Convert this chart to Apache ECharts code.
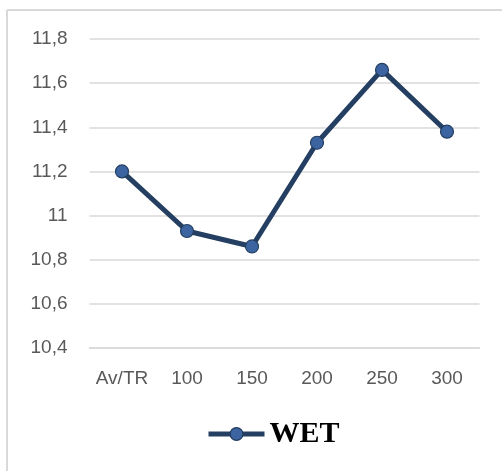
<!DOCTYPE html>
<html>
<head>
<meta charset="utf-8">
<script src="https://cdn.jsdelivr.net/npm/echarts@6/dist/echarts.min.js"></script>
<style>
  html, body { margin: 0; padding: 0; background: #ffffff; }
  #chart { width: 502px; height: 471px; }
</style>
</head>
<body>
<div id="chart"></div>
<script>
// Dose levels along the x axis
const categories = ['Av/TR', '100', '150', '200', '250', '300'];
// WET values per dose level
const wetValues = [11.2, 10.93, 10.86, 11.33, 11.66, 11.38];
const seriesName = 'WET';

const chart = echarts.init(document.getElementById('chart'), null, { renderer: 'canvas' });

const labelFont = '"Liberation Sans", "DejaVu Sans", sans-serif';
const lineColor = '#243f62';
const markerColor = '#3b64a0';

chart.setOption({
  animation: false,
  backgroundColor: '#ffffff',
  graphic: [
    // frame lines on the top and left edges
    { type: 'line', shape: { x1: 7, y1: 10, x2: 502, y2: 10 }, style: { stroke: '#d9d9d9', lineWidth: 2 } },
    { type: 'line', shape: { x1: 7, y1: 10, x2: 7, y2: 471 }, style: { stroke: '#d9d9d9', lineWidth: 2 } }
  ],
  grid: { left: 89.5, right: 22.5, top: 39, bottom: 123 },
  legend: {
    data: [seriesName],
    left: 206,
    top: 419,
    itemWidth: 56,
    itemHeight: 16,
    itemGap: 4,
    padding: 0,
    lineStyle: { width: 5, color: lineColor },
    itemStyle: { color: markerColor, borderColor: lineColor, borderWidth: 1.2 },
    textStyle: {
      fontFamily: '"Liberation Serif", "DejaVu Serif", serif',
      fontWeight: 'bold',
      fontSize: 30,
      color: '#000000'
    }
  },
  xAxis: {
    type: 'category',
    data: categories,
    boundaryGap: true,
    axisLine: { show: true, lineStyle: { color: '#d9d9d9', width: 1.5 } },
    axisTick: { show: false },
    axisLabel: { interval: 0, color: '#595959', fontSize: 19, fontFamily: labelFont, margin: 21 }
  },
  yAxis: {
    type: 'value',
    min: 10.4,
    max: 11.8,
    interval: 0.2,
    axisLine: { show: false },
    axisTick: { show: false },
    splitLine: { lineStyle: { color: '#d9d9d9', width: 1.5 } },
    axisLabel: {
      color: '#595959',
      fontSize: 19,
      fontFamily: labelFont,
      margin: 22,
      formatter: function (v) {
        return String(Math.round(v * 10) / 10).replace('.', ',');
      }
    }
  },
  series: [{
    name: seriesName,
    type: 'line',
    data: wetValues,
    symbol: 'circle',
    symbolSize: 13,
    lineStyle: { color: lineColor, width: 5 },
    itemStyle: { color: markerColor, borderColor: lineColor, borderWidth: 1.2 }
  }]
});
</script>
</body>
</html>
